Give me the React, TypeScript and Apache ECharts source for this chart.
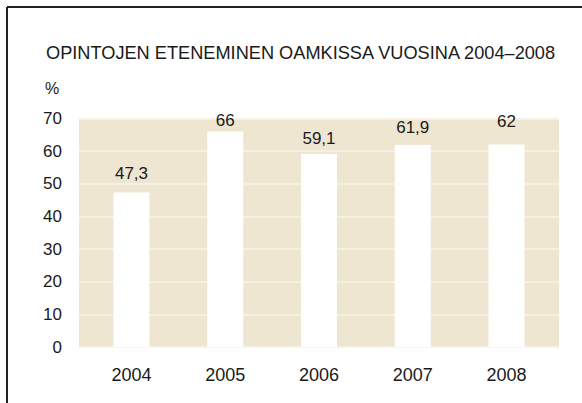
import React, { useEffect, useRef } from "react";
import * as echarts from "echarts";

const years = ["2004", "2005", "2006", "2007", "2008"];
const values = [47.3, 66, 59.1, 61.9, 62];
const labelShiftY = [-2, 6, 2, 0, -6];
const yTicks = [0, 10, 20, 30, 40, 50, 60, 70];
const titleText = "OPINTOJEN ETENEMINEN OAMKISSA VUOSINA 2004–2008";
const unitText = "%";

const FONT = "Liberation Sans";
const TEXT = "#1a1a1a";

export default function App() {
  const ref = useRef<HTMLDivElement>(null);
  useEffect(() => {
    document.body.style.margin = "0";
    const chart = echarts.init(ref.current!, null, { renderer: "svg" });
    const top = 118.5;
    const height = 228.5;
    chart.setOption({
      animation: false,
      backgroundColor: "#ffffff",
      textStyle: { fontFamily: FONT, color: TEXT },
      title: {
        text: titleText,
        left: 41,
        top: 39,
        textStyle: { fontFamily: FONT, fontSize: 18.2, fontWeight: "normal", color: TEXT },
      },
      graphic: [
        { type: "line", shape: { x1: 7, y1: 7, x2: 582, y2: 7 }, style: { stroke: "#222", lineWidth: 2 } },
        { type: "line", shape: { x1: 7, y1: 7, x2: 7, y2: 403 }, style: { stroke: "#222", lineWidth: 2 } },
        {
          type: "text",
          x: 52,
          y: 88,
          style: { text: unitText, fontFamily: FONT, fontSize: 16, fill: TEXT, align: "center", verticalAlign: "middle" },
        },
      ],
      grid: [
        { left: 79, top, width: 480, height, show: true, backgroundColor: "#efe6d1", borderWidth: 0 },
        { left: 84.6, top, width: 468.8, height },
      ],
      xAxis: [
        { gridIndex: 0, type: "value", show: false, min: 0, max: 1 },
        {
          gridIndex: 1,
          type: "category",
          data: years,
          axisLine: { show: false },
          axisTick: { show: false },
          axisLabel: { fontFamily: FONT, fontSize: 18, color: TEXT, margin: 19 },
        },
      ],
      yAxis: [
        {
          gridIndex: 0,
          type: "value",
          min: yTicks[0],
          max: yTicks[yTicks.length - 1],
          interval: 10,
          axisLine: { show: false },
          axisTick: { show: false },
          axisLabel: { fontFamily: FONT, fontSize: 17, color: TEXT, margin: 17 },
          splitLine: { show: true, lineStyle: { color: "#f8f3e9", width: 1.5 } },
        },
        { gridIndex: 1, type: "value", min: 0, max: 70, show: false, splitLine: { show: false } },
      ],
      series: [
        {
          type: "bar",
          xAxisIndex: 1,
          yAxisIndex: 1,
          data: values.map((v, i) => ({ value: v, label: { offset: [0, labelShiftY[i]] } })),
          barWidth: 36,
          itemStyle: { color: "#ffffff" },
          label: {
            show: true,
            position: "top",
            distance: 9,
            fontFamily: FONT,
            fontSize: 17,
            color: TEXT,
            formatter: (p: any) => String(p.value).replace(".", ","),
          },
        },
      ],
    });
    return () => chart.dispose();
  }, []);
  return <div ref={ref} style={{ width: 582, height: 403 }} />;
}
